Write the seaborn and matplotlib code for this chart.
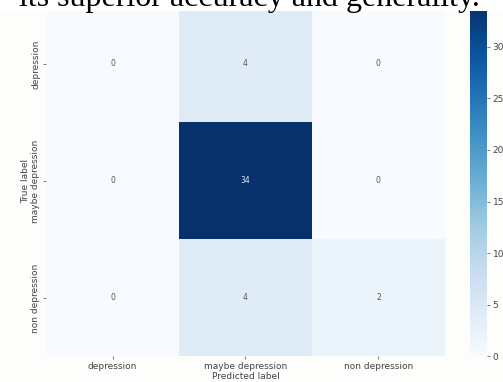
import matplotlib
matplotlib.use("Agg")
import matplotlib.pyplot as plt
import matplotlib.patches as mpatches
import seaborn as sns
import numpy as np

labels = ["depression", "maybe depression", "non depression"]
cm = [[0, 4, 0],
      [0, 34, 0],
      [0, 4, 2]]

fig = plt.figure(figsize=(5.03, 3.82), dpi=100)
fig.patch.set_facecolor("#fdfdfb")
ax = fig.add_axes([0.0915, 0.0668, 0.793, 0.919])
cax = fig.add_axes([0.934, 0.0668, 0.034, 0.919])

sns.heatmap(np.array(cm), annot=True, fmt="d", cmap="Blues", ax=ax, cbar_ax=cax,
            xticklabels=labels, yticklabels=labels, annot_kws={"fontsize": 5.5})
for t in ax.texts:
    if t.get_text() != "34":
        t.set_color("#555555")
    else:
        t.set_color("#dde6f5")
ax.set_xlabel("Predicted label", fontsize=6.5, color="#444444", labelpad=1)
ax.set_ylabel("True label", fontsize=6.5, color="#444444", labelpad=1)
ax.tick_params(labelsize=6.5, colors="#444444", length=2, width=0.5, pad=2)
plt.setp(ax.get_xticklabels(), rotation=0, color="#444444")
plt.setp(ax.get_yticklabels(), rotation=90, va="center", color="#444444")
cax.tick_params(labelsize=6.5, colors="#444444", length=2, width=0.5, pad=2)
cax.set_yticks([0, 5, 10, 15, 20, 25, 30])
for s in cax.spines.values():
    s.set_visible(False)

# white page strip above the cropped chart
fig.patches.append(mpatches.Rectangle((0, 0.971), 1, 0.029, transform=fig.transFigure,
                                      facecolor="white", edgecolor="none", zorder=5))
fig.text(0.495, 0.984, "its superior accuracy and generality.", ha="center", va="baseline",
         fontsize=23, family="Liberation Serif", color="black", zorder=6)

fig.savefig("out.png", dpi=100, facecolor=fig.get_facecolor())
